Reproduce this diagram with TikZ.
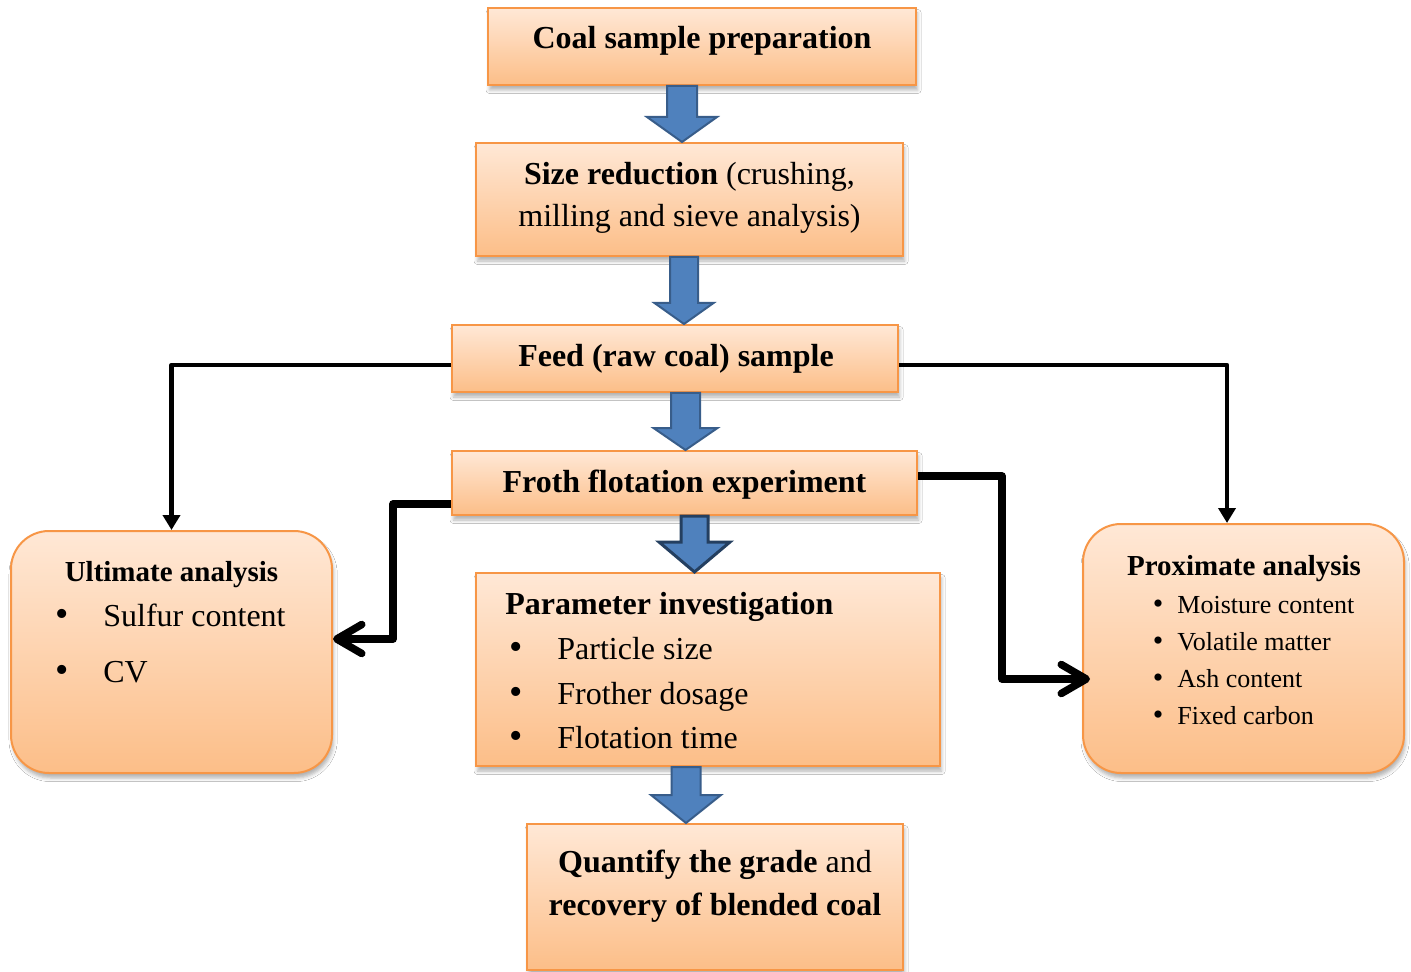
\documentclass[tikz,border=0pt]{standalone}
\usepackage{fontspec}
\setmainfont{Liberation Serif}
\usetikzlibrary{calc,arrows.meta,shadows.blur}
\definecolor{boxtop}{HTML}{FFE8D6}
\definecolor{boxbot}{HTML}{FCBE88}
\definecolor{boxline}{HTML}{F79646}
\definecolor{arrfill}{HTML}{4F81BD}
\definecolor{arrline}{HTML}{385D8A}
\definecolor{arrdark}{HTML}{243F60}
\newcommand{\blkarrow}[6]{%
  \path[#1] let \p1=(#2), \p2=(#3) in
    (\x1-#4,\y1) -- (\x1+#4,\y1) -- (\x1+#4,\y2+#6) -- (\x1+#5,\y2+#6)
    -- (\x1,\y2) -- (\x1-#5,\y2+#6) -- (\x1-#4,\y2+#6) -- cycle;}
\tikzset{
  box/.style={draw=boxline, line width=1pt, top color=boxtop, bottom color=boxbot,
    inner sep=0pt,
    blur shadow={shadow xshift=0.8pt, shadow yshift=-2.5pt, shadow blur radius=1.8pt, shadow opacity=30}},
  rbox/.style={box, rounded corners=19pt},
  txt/.style={anchor=base, inner sep=0pt, font=\fontsize{16}{19}\selectfont},
  ltxt/.style={txt, anchor=base west},
  ttl/.style={anchor=base, inner sep=0pt, font=\fontsize{14.5}{17}\selectfont\bfseries},
  ptxt/.style={anchor=base west, inner sep=0pt, font=\fontsize{13}{16}\selectfont},
  bul/.style={anchor=base, inner sep=0pt, font=\fontsize{19}{19}\selectfont},
  pbul/.style={anchor=base, inner sep=0pt, font=\fontsize{15}{16}\selectfont},
  blk/.style={fill=arrfill, draw=arrline, line width=1pt, line join=miter},
  blkd/.style={fill=arrfill, draw=arrdark, line width=1.5pt, line join=miter},
  thinarr/.style={draw=black, line width=2.3pt, line join=round, -{Triangle[length=7.5pt,width=8.5pt]}},
  thickarr/.style={draw=black, line width=3.75pt, line join=round, -{Straight Barb[length=12.5pt,width=14.5pt,round]}}
}
\begin{document}
\begin{tikzpicture}[x=0.5pt,y=-0.5pt]
\useasboundingbox[fill=white] (0,0) rectangle (1411,972);
% boxes
\node[box, minimum width=214pt, minimum height=38.5pt] (b1) at (702,46.5) {};
\node[box, minimum width=213.5pt, minimum height=56.5pt] (b2) at (689.5,199.5) {};
\node[box, minimum width=223pt, minimum height=33.5pt] (b3) at (675,358.5) {};
\node[box, minimum width=232.5pt, minimum height=32pt] (b4) at (684.5,483) {};
\node[box, minimum width=232pt, minimum height=96.5pt] (b5) at (708,669.5) {};
\node[box, minimum width=188pt, minimum height=73pt] (b6) at (715,897) {};
\node[rbox, minimum width=160.5pt, minimum height=121pt] (ult) at (171.5,652) {};
\node[rbox, minimum width=160.5pt, minimum height=124.5pt] (prox) at (1243.5,648.5) {};
% texts
\node[txt] (t1) at (702,49) {\bfseries Coal sample preparation};
\node[txt] (t2a) at (689.5,185) {{\bfseries Size reduction} (crushing,};
\node[txt] (t2b) at (689.5,227) {milling and sieve analysis)};
\node[txt] (t3) at (676,367) {\bfseries Feed (raw coal) sample};
\node[txt] (t4) at (684.5,492) {\bfseries Froth flotation experiment};
\node[ltxt] (t5) at (505,614) {\bfseries Parameter investigation};
\node[bul] (t5b1) at (516,659) {\textbullet};
\node[bul] (t5b2) at (516,704) {\textbullet};
\node[bul] (t5b3) at (516,748) {\textbullet};
\node[ltxt] (t5i1) at (557,659) {Particle size};
\node[ltxt] (t5i2) at (557,704) {Frother dosage};
\node[ltxt] (t5i3) at (557,748) {Flotation time};
\node[txt] (t6a) at (715,872) {{\bfseries Quantify the grade} and};
\node[txt] (t6b) at (715,915) {\bfseries recovery of blended coal};
\node[ttl] (tu) at (171.5,581.5) {Ultimate analysis};
\node[bul] (tub1) at (62,626) {\textbullet};
\node[bul] (tub2) at (62,682) {\textbullet};
\node[ltxt] (tui1) at (103,626) {Sulfur content};
\node[ltxt] (tui2) at (103,682) {CV};
\node[ttl] (tp) at (1244,575.5) {Proximate analysis};
\node[pbul] (tpb1) at (1158,613) {\textbullet};
\node[pbul] (tpb2) at (1158,650) {\textbullet};
\node[pbul] (tpb3) at (1158,687) {\textbullet};
\node[pbul] (tpb4) at (1158,724) {\textbullet};
\node[ptxt] (tpi1) at (1177,613) {Moisture content};
\node[ptxt] (tpi2) at (1177,650) {Volatile matter};
\node[ptxt] (tpi3) at (1177,687) {Ash content};
\node[ptxt] (tpi4) at (1177,724) {Fixed carbon};
% block arrows
\coordinate (xa1) at (682,0);
\coordinate (xa2) at (684,0);
\coordinate (xa3) at (685.5,0);
\coordinate (xa4) at (694.5,0);
\coordinate (xa5) at (686,0);
\blkarrow{blk}{b1.south -| xa1}{b2.north -| xa1}{7.5pt}{17.5pt}{12.5pt}
\blkarrow{blk}{b2.south -| xa2}{b3.north -| xa2}{7pt}{14.75pt}{10.5pt}
\blkarrow{blk}{b3.south -| xa3}{b4.north -| xa3}{7.25pt}{16pt}{11pt}
\blkarrow{blkd}{b4.south -| xa4}{b5.north -| xa4}{6.75pt}{17.75pt}{15pt}
\blkarrow{blk}{b5.south -| xa5}{b6.north -| xa5}{7.25pt}{17.5pt}{14pt}
% connectors
\draw[thinarr] ($(b3.west)+(0,6.5)$) -| (ult.north);
\draw[thinarr] ($(b3.east)+(0,6.5)$) -| ($(prox.north)+(-16.5,0)$);
\coordinate (L0) at ($(b4.west)+(0,21)$);
\coordinate (Lx) at (393,0);
\draw[thickarr] (L0) -- (L0 -| Lx) |- ($(ult.east)+(0,-13)$);
\coordinate (R0) at ($(b4.east)+(0,-7)$);
\coordinate (Rx) at (1002,0);
\draw[thickarr] (R0) -- (R0 -| Rx) |- ($(prox.west)+(8,30.5)$);
\end{tikzpicture}
\end{document}
